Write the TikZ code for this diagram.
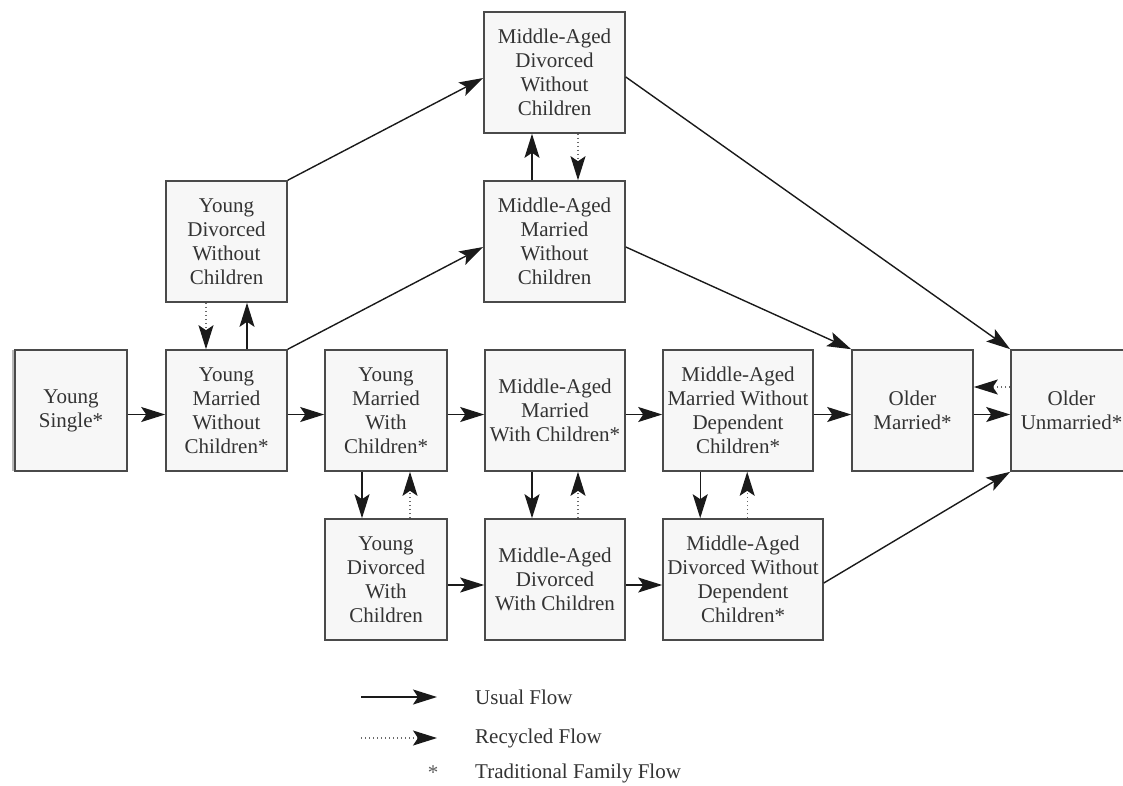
\documentclass[tikz,border=0pt]{standalone}
\usepackage{fontspec}
\setmainfont{Liberation Serif}
\usetikzlibrary{arrows.meta,calc}
\definecolor{boxline}{HTML}{4A4A4A}
\definecolor{boxfill}{HTML}{F7F7F7}
\definecolor{txt}{HTML}{333333}
\definecolor{arr}{HTML}{1A1A1A}
\definecolor{dotc}{HTML}{6A6A6A}
\begin{document}
\begin{tikzpicture}[x=1pt,y=-1pt,
  stage/.style={draw=boxline, line width=1.6pt, fill=boxfill, text=txt, align=center,
    inner sep=0pt, minimum height=121pt, font=\fontsize{21}{24}\selectfont},
  tipshape/.style={-{Stealth[length=24pt,width=15pt,inset=5pt,color=arr]}},
  flow/.style={draw=arr, line width=1.4pt, tipshape},
  recyc/.style={draw=dotc, line width=1.3pt, dash pattern=on 1.3pt off 2.7pt, tipshape},
  legtext/.style={anchor=west, text=txt, inner sep=0pt, font=\fontsize{21}{24}\selectfont}]
\useasboundingbox (0,0) rectangle (1123,785);
\clip (0,0) rectangle (1123,785);
\fill[white] (0,0) rectangle (1123,785);

% shadow edge of the first box
\draw[gray!55, line width=2.5pt] (13.5,350) -- (13.5,471);

% stages
\node[stage, minimum width=112pt] (ys)     at (71,410.5)    {Young\\Single*};
\node[stage, minimum width=121pt] (ymwc)   at (226.5,410.5) {Young\\Married\\Without\\Children*};
\node[stage, minimum width=121pt] (ydwc)   at (226.5,241.5) {Young\\Divorced\\Without\\Children};
\node[stage, minimum width=122pt] (ymwic)  at (386,410.5)   {Young\\Married\\With\\Children*};
\node[stage, minimum width=122pt] (ydwic)  at (386,579.5)   {Young\\Divorced\\With\\Children};
\node[stage, minimum width=140pt] (mamwic) at (555,410.5)   {Middle-Aged\\Married\\With Children*};
\node[stage, minimum width=140pt] (madwic) at (555,579.5)   {Middle-Aged\\Divorced\\With Children};
\node[stage, minimum width=141pt] (mamwoc) at (554.5,241.5) {Middle-Aged\\Married\\Without\\Children};
\node[stage, minimum width=141pt] (madwoc) at (554.5,72.5)  {Middle-Aged\\Divorced\\Without\\Children};
\node[stage, minimum width=150pt] (mamwodc) at (738,410.5)  {Middle-Aged\\Married Without\\Dependent\\Children*};
\node[stage, minimum width=160pt] (madwodc) at (743,579.5)  {Middle-Aged\\Divorced Without\\Dependent\\Children*};
\node[stage, minimum width=121pt] (om)     at (912.5,410.5) {Older\\Married*};
\node[stage, minimum width=121pt] (ou)     at (1071.5,410.5) {Older\\Unmarried*};

% main row
\draw[flow] ([yshift=-4pt]ys.east) -- ([yshift=-4pt]ymwc.west);
\draw[flow] ([yshift=-4pt]ymwc.east) -- ([yshift=-4pt]ymwic.west);
\draw[flow] ([yshift=-4pt]ymwic.east) -- ([yshift=-4pt]mamwic.west);
\draw[flow] ([yshift=-4pt]mamwic.east) -- ([yshift=-4pt]mamwodc.west);
\draw[flow] ([yshift=-4pt]mamwodc.east) -- ([yshift=-4pt]om.west);
\draw[flow] ([yshift=-4pt]om.east) -- ([yshift=-4pt]ou.west);
\draw[recyc] ([yshift=23.5pt]ou.west) -- ([yshift=23.5pt]om.west -| om.east);

% young married without children <-> young divorced without children
\draw[flow] ([xshift=20.5pt]ymwc.north) -- ([xshift=20.5pt]ydwc.south);
\draw[recyc] ([xshift=-20.5pt]ydwc.south) -- ([xshift=-20.5pt]ymwc.north);

% middle-aged married without children <-> divorced without children
\draw[flow] ([xshift=-22.5pt]mamwoc.north) -- ([xshift=-22.5pt]madwoc.south);
\draw[recyc] ([xshift=23.5pt]madwoc.south) -- ([xshift=23.5pt]mamwoc.north);

% diagonals to upper boxes
\draw[flow] (ydwc.north east) -- ([yshift=-5.5pt]madwoc.west);
\draw[flow] (ymwc.north east) -- ([yshift=-5.5pt]mamwoc.west);
\draw[flow] ([yshift=-4.5pt]madwoc.east) -- (ou.north west);
\draw[flow] ([yshift=-5.5pt]mamwoc.east) -- (om.north west);

% vertical pairs to bottom row
\draw[flow] ([xshift=-24pt]ymwic.south) -- ([xshift=-24pt]ydwic.north);
\draw[recyc] ([xshift=24pt]ydwic.north) -- ([xshift=24pt]ymwic.south);
\draw[flow] ([xshift=-23pt]mamwic.south) -- ([xshift=-23pt]madwic.north);
\draw[recyc] ([xshift=23pt]madwic.north) -- ([xshift=23pt]mamwic.south);
\draw[flow] ([xshift=38pt]mamwodc.south west) -- ([xshift=38pt]madwodc.north west);
\draw[recyc] ([xshift=85pt]madwodc.north west) -- ([xshift=85pt]mamwodc.south west);

% bottom row
\draw[flow] ([yshift=-5.5pt]ydwic.east) -- ([yshift=-5.5pt]madwic.west);
\draw[flow] ([yshift=-5.5pt]madwic.east) -- ([yshift=-5.5pt]madwodc.west);
\draw[flow] ([yshift=-3.5pt]madwodc.east) -- (ou.south west);

% legend
\coordinate (u1) at (361,697);
\coordinate (u2) at (437,697);
\coordinate (r1) at (361,738);
\coordinate (r2) at (437,738);
\draw[flow, line width=1.8pt] (u1) -- (u2);
\draw[recyc] (r1) -- (r2);
\node[legtext] (lu) at (475,697) {Usual Flow};
\node[legtext] (lr) at (475,738) {Recycled Flow};
\node[text=txt!80, inner sep=0pt, font=\fontsize{21}{24}\selectfont] (ls) at (433,773) {*};
\node[legtext] (lt) at (475,773) {Traditional Family Flow};
\end{tikzpicture}
\end{document}
